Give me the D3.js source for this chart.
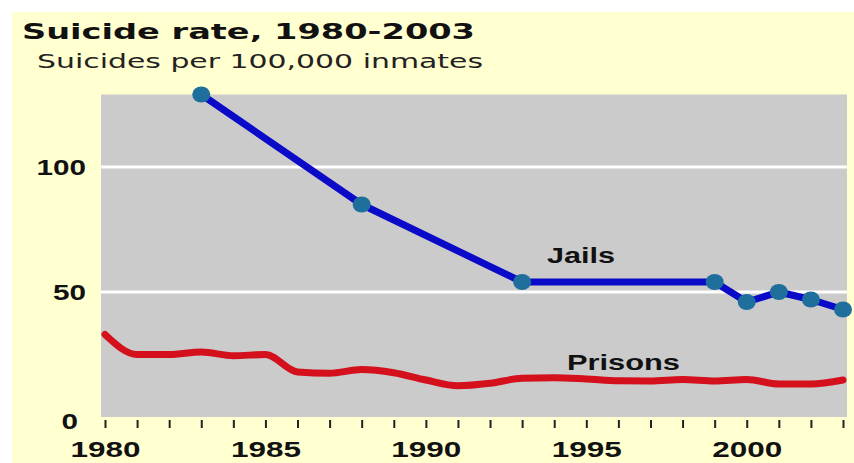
<!DOCTYPE html>
<html>
<head>
<meta charset="utf-8">
<script src="https://cdn.jsdelivr.net/npm/d3@7"></script>
<style>
  html, body { margin: 0; padding: 0; background: #ffffff; }
  svg { display: block; }
</style>
</head>
<body>
<svg id="chart" width="854" height="463"></svg>
<script>
// Suicide rate per 100,000 inmates
const jailYears = [1983, 1988, 1993, 1999, 2000, 2001, 2002, 2003];
const jailRates = [129, 85, 54, 54, 46, 50, 47, 43];

const prisonYears = [1980, 1981, 1982, 1983, 1984, 1985, 1986, 1987, 1988, 1989, 1990, 1991,
                     1992, 1993, 1994, 1995, 1996, 1997, 1998, 1999, 2000, 2001, 2002, 2003];
const prisonRates = [33, 25, 25, 26, 24.5, 25, 18, 17.5, 19, 17.7, 14.8, 12.5,
                     13.5, 15.5, 15.7, 15.2, 14.5, 14.4, 15, 14.4, 15, 13.2, 13.2, 14.8];

const yTickValues = [0, 50, 100];
const gridValues = [50, 100];
const xLabelYears = [1980, 1985, 1990, 1995, 2000];
const titleText = "Suicide rate, 1980-2003";
const subtitleText = "Suicides per 100,000 inmates";

const svg = d3.select("#chart");

// pale yellow panel
svg.append("rect").attr("x", 12).attr("y", 12).attr("width", 842).attr("height", 451)
  .attr("fill", "#ffffcf");

const plot = { left: 101, right: 847, top: 94.5, bottom: 417 };

const x = d3.scaleLinear().domain([1980, 2003]).range([105, 843]);
const y = d3.scaleLinear().domain([0, 129]).range([plot.bottom, plot.top]);

// grey plotting area
svg.append("rect")
  .attr("x", plot.left).attr("y", plot.top)
  .attr("width", plot.right - plot.left).attr("height", plot.bottom - plot.top)
  .attr("fill", "#cbcbcb");

// white gridlines
svg.append("g").selectAll("line").data(gridValues).join("line")
  .attr("x1", plot.left).attr("x2", plot.right)
  .attr("y1", d => y(d)).attr("y2", d => y(d))
  .attr("stroke", "#ffffff").attr("stroke-width", 3);

// title and subtitle
svg.append("text").attr("x", 22).attr("y", 39)
  .attr("font-family", "'DejaVu Sans', Verdana, sans-serif").attr("font-weight", "bold")
  .attr("font-size", 22).attr("fill", "#111")
  .attr("textLength", 453).attr("lengthAdjust", "spacingAndGlyphs")
  .text(titleText);
svg.append("text").attr("x", 37).attr("y", 68)
  .attr("font-family", "'DejaVu Sans', Verdana, sans-serif")
  .attr("font-size", 19).attr("fill", "#222")
  .attr("textLength", 446).attr("lengthAdjust", "spacingAndGlyphs")
  .text(subtitleText);

// x axis: a small tick for every year, labels every five years
const xAxis = d3.axisBottom(x)
  .tickValues(d3.range(1980, 2004))
  .tickSize(8)
  .tickFormat(d => xLabelYears.includes(d) ? String(d) : "");
const gx = svg.append("g").attr("transform", `translate(0,${plot.bottom + 3})`).call(xAxis);
gx.select(".domain").remove();
gx.selectAll(".tick line").attr("stroke", "#222").attr("stroke-width", 2);
gx.selectAll(".tick text")
  .attr("y", 37).attr("dy", 0)
  .attr("font-family", "'Liberation Sans', Arial, sans-serif").attr("font-weight", "bold")
  .attr("font-size", 22).attr("fill", "#111")
  .each(function (d) {
    if (xLabelYears.includes(d)) {
      d3.select(this).attr("textLength", 70).attr("lengthAdjust", "spacingAndGlyphs");
    }
  });

// y axis labels
const yAxis = d3.axisLeft(y).tickValues(yTickValues).tickSize(0).tickFormat(d3.format("d"));
const gy = svg.append("g").attr("transform", "translate(86,0)").call(yAxis);
gy.select(".domain").remove();
gy.selectAll(".tick text")
  .attr("x", d => d === 0 ? -8 : 0).attr("dy", "0.36em")
  .attr("font-family", "'Liberation Sans', Arial, sans-serif").attr("font-weight", "bold")
  .attr("font-size", 22).attr("fill", "#111")
  .attr("textLength", d => String(d).length * 16.5).attr("lengthAdjust", "spacingAndGlyphs");
gy.selectAll(".tick").filter(d => d === 0).attr("transform", `translate(0,${y(0) + 4})`);

// prison line
const prisonData = prisonYears.map((yr, i) => ({ year: yr, value: prisonRates[i] }));
svg.append("path").datum(prisonData)
  .attr("fill", "none").attr("stroke", "#d3101c").attr("stroke-width", 7)
  .attr("stroke-linejoin", "round").attr("stroke-linecap", "round")
  .attr("d", d3.line().x(d => x(d.year)).y(d => y(d.value)).curve(d3.curveMonotoneX));

// jail line with markers
const jailData = jailYears.map((yr, i) => ({ year: yr, value: jailRates[i] }));
svg.append("path").datum(jailData)
  .attr("fill", "none").attr("stroke", "#0a0ac8").attr("stroke-width", 7)
  .attr("stroke-linejoin", "round")
  .attr("d", d3.line().x(d => x(d.year)).y(d => y(d.value)));
svg.append("g").selectAll("ellipse").data(jailData).join("ellipse")
  .attr("cx", d => x(d.year)).attr("cy", d => y(d.value))
  .attr("rx", 9).attr("ry", 8)
  .attr("fill", "#1f6f9c");

// series labels
const labelFont = "'Liberation Sans', Arial, sans-serif";
svg.append("text").attr("x", 547).attr("y", 263)
  .attr("font-family", labelFont).attr("font-weight", "bold").attr("font-size", 22).attr("fill", "#111")
  .attr("textLength", 68).attr("lengthAdjust", "spacingAndGlyphs")
  .text("Jails");
svg.append("text").attr("x", 567).attr("y", 370)
  .attr("font-family", labelFont).attr("font-weight", "bold").attr("font-size", 22).attr("fill", "#111")
  .attr("textLength", 113).attr("lengthAdjust", "spacingAndGlyphs")
  .text("Prisons");
</script>
</body>
</html>
